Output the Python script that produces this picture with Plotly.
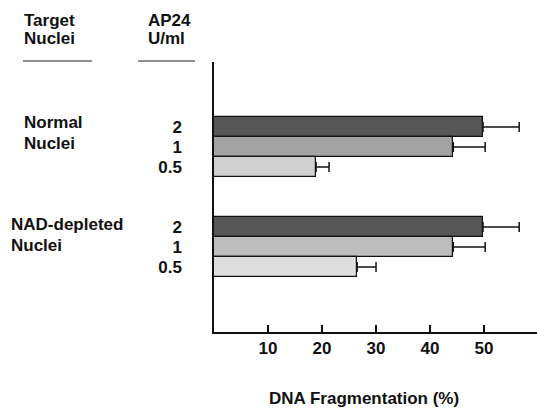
import plotly.graph_objects as go

# ---- data ----
group_lines = [["Normal", "Nuclei"], ["NAD-depleted", "Nuclei"]]
doses = ["2", "1", "0.5"]
normal_values = [49.8, 44.3, 18.9]
normal_errors = [6.7, 5.9, 2.4]
nad_values = [49.8, 44.3, 26.5]
nad_errors = [6.7, 5.9, 3.5]
x_ticks = [10, 20, 30, 40, 50]

# ---- layout helpers ----
W, H = 537, 410
L, R, T, B = 214, 0, 62, 78
PW, PH = W - L - R, H - T - B

def px(x):
    return (x - L) / PW

def py(y):
    return (H - B - y) / PH

group_colors = [["#565656", "#a3a3a3", "#d0d0d0"],
                ["#565656", "#bdbdbd", "#dedede"]]

values = [normal_values, nad_values]
errors = [normal_errors, nad_errors]

fig = go.Figure()
tickvals, ticktext = [], []
for g in range(len(group_lines)):
    ys = [3.25 + g * 5 + d for d in range(len(doses))]
    tickvals += ys
    ticktext += doses
    fig.add_trace(go.Bar(
        x=values[g], y=ys, orientation="h", width=1.0,
        marker=dict(color=group_colors[g], line=dict(color="#111", width=1.2)),
        error_x=dict(type="data", array=errors[g], arrayminus=[0] * len(doses),
                     symmetric=False, color="#111", thickness=1.5, width=5),
        showlegend=False, hoverinfo="x",
    ))

FS = 17
font_main = dict(family="Liberation Sans, Arial, sans-serif", size=FS, color="#111", weight="bold")

fig.update_layout(
    width=W, height=H,
    margin=dict(l=L, r=R, t=T, b=B),
    paper_bgcolor="white", plot_bgcolor="white",
    font=font_main,
    bargap=0,
    xaxis=dict(range=[0, 59.8], tickvals=x_ticks, ticks="inside", ticklen=7,
               tickwidth=1.5, tickcolor="#111", showline=True, linecolor="#111",
               linewidth=1.5, showgrid=False, zeroline=False,
               tickfont=dict(size=FS), ticklabelstandoff=0),
    yaxis=dict(range=[13.5, 0], tickvals=tickvals, ticktext=ticktext, ticks="",
               showline=True, linecolor="#111", linewidth=1.5, showgrid=False,
               zeroline=False, tickfont=dict(size=FS), ticklabelstandoff=27),
)

ann = []
def text(x, y, s, anchor="left"):
    ann.append(dict(x=px(x), y=py(y), text=s, xanchor=anchor, yanchor="middle",
                    xref="paper", yref="paper", showarrow=False, font=font_main))

# column headers
text(22, 21, "Target")
text(22, 38, "Nuclei")
text(146, 21, "AP24")
text(146, 38, "U/ml")
# group labels
text(22, 122, group_lines[0][0])
text(22, 143, group_lines[0][1])
text(9, 224, group_lines[1][0])
text(9, 245, group_lines[1][1])
# axis title
text(364, 398, "DNA Fragmentation (%)", anchor="center")
fig.update_layout(annotations=ann)

# header underlines
fig.add_shape(type="line", xref="paper", yref="paper", x0=px(23), x1=px(92), y0=py(61), y1=py(61),
              line=dict(color="#222", width=1.2))
fig.add_shape(type="line", xref="paper", yref="paper", x0=px(138), x1=px(195), y0=py(61), y1=py(61),
              line=dict(color="#222", width=1.2))

fig.write_html("out.html")
